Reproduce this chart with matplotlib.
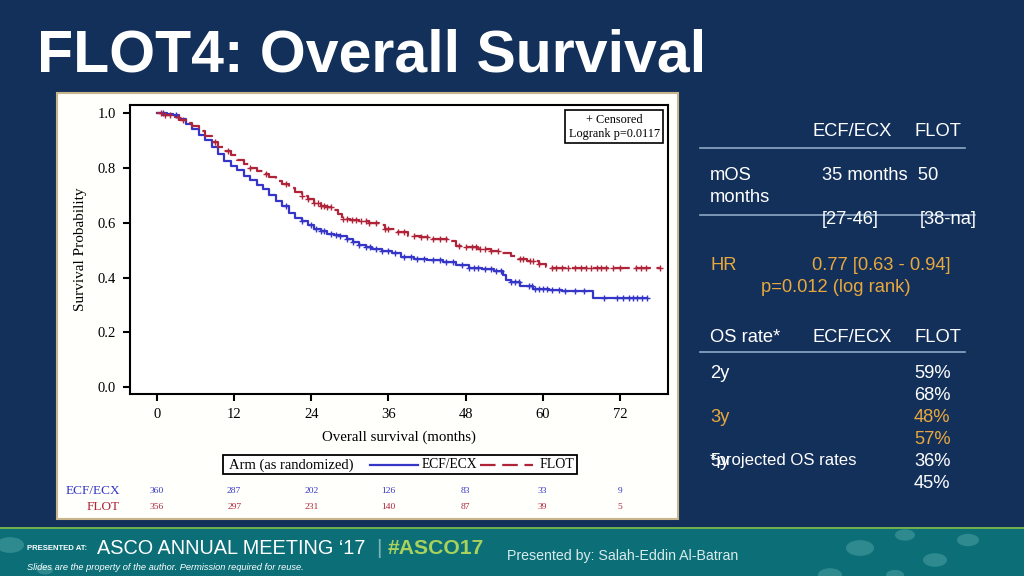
import numpy as np
import matplotlib
matplotlib.use("Agg")
import matplotlib.pyplot as plt
from matplotlib.patches import Rectangle, Circle
from matplotlib.lines import Line2D
import matplotlib.transforms as mtransforms

# Kaplan-Meier curves (months, survival probability)
ecf_time = [0, 1.5, 2.5, 3.5, 4.5, 5.5, 6.5, 7.5, 8.5, 9.5, 10.5, 11.5, 12.5, 13.5,
            14.5, 15.5, 16.5, 17.5, 18.5, 19.5, 20.5, 21.5, 22.5, 23.5, 24.5, 25.5,
            26.5, 27.5, 28.5, 29.5, 30.5, 31.5, 32.5, 33.5, 35, 36.5, 38, 40, 42,
            44.5, 46.5, 48.5, 50.5, 52.5, 53.8, 54.3, 55, 56.5, 58.5, 61, 63, 67.8, 76.2]
ecf_surv = [1.0, 0.997, 0.99, 0.978, 0.958, 0.94, 0.918, 0.9, 0.875, 0.848, 0.825,
            0.805, 0.79, 0.768, 0.755, 0.738, 0.722, 0.7, 0.68, 0.66, 0.636, 0.618,
            0.605, 0.59, 0.577, 0.568, 0.56, 0.556, 0.55, 0.54, 0.528, 0.518, 0.51,
            0.504, 0.497, 0.49, 0.474, 0.468, 0.462, 0.455, 0.445, 0.435, 0.43,
            0.422, 0.41, 0.39, 0.382, 0.37, 0.36, 0.355, 0.35, 0.325, 0.325]

flot_time = [0, 1, 2.5, 3.5, 4.5, 5.5, 6.5, 7.5, 8.5, 9.5, 10.5, 11.5, 12.5, 13.5,
             14.5, 15.5, 16.5, 17.5, 18.5, 19.5, 20.5, 21.5, 22.5, 23.5, 24.5, 25.5,
             26.5, 27.5, 28.2, 28.8, 30, 31.5, 33, 34.5, 35.5, 37, 39, 41, 43, 45.3,
             46.5, 48, 50, 52, 53.5, 55, 56.2, 57.5, 59.5, 60.5, 61.5, 78.2]
flot_surv = [1.0, 0.99, 0.985, 0.972, 0.962, 0.952, 0.935, 0.915, 0.895, 0.875, 0.86,
             0.845, 0.828, 0.812, 0.798, 0.788, 0.778, 0.765, 0.752, 0.74, 0.725,
             0.71, 0.697, 0.685, 0.67, 0.662, 0.655, 0.645, 0.63, 0.612, 0.61,
             0.607, 0.6, 0.59, 0.575, 0.565, 0.55, 0.546, 0.54, 0.532, 0.515, 0.51,
             0.504, 0.498, 0.49, 0.48, 0.468, 0.46, 0.45, 0.44, 0.433, 0.433]

# Censoring times (tick marks on the curves)
ecf_cens = [1, 3, 20, 22.5, 24, 24.8, 25.5, 26, 27, 27.8, 28.5, 29.5, 30.5, 31.5, 32.5,
            33.2, 34, 35, 36, 37, 38.5, 39.5, 40.5, 41.5, 43, 44, 45, 46, 47.5, 48.5,
            49.3, 50, 51, 52, 52.8, 53.5, 55, 55.7, 56.3, 57.8, 58.3, 58.8, 59.5, 60,
            60.6, 61.5, 62.5, 63.5, 65, 66.5, 69.5, 71.5, 72.5, 73.5, 74, 74.6, 75.5, 76.2]
flot_cens = [0.6, 1.2, 2, 3.2, 4, 9, 11, 14.5, 17, 20, 22.5, 23.5, 24.5, 25, 25.5, 26,
             26.5, 27, 29, 29.6, 30.3, 31, 31.7, 32.5, 33, 34, 35.5, 36, 37.5, 38.5, 40,
             41, 42, 43, 44, 45, 47, 48, 49, 49.6, 50.3, 51, 52, 53, 56.5, 57, 58, 58.5,
             59.5, 61.5, 62, 63, 64, 65, 66, 66.7, 67.5, 68.5, 69, 69.8, 71, 72, 74.5,
             75.3, 76, 78.2]

# Number at risk table
risk_months = [0, 12, 24, 36, 48, 60, 72]
ecf_at_risk = [360, 287, 202, 126, 83, 33, 9]
flot_at_risk = [356, 297, 231, 140, 87, 39, 5]

# Colours
NAVY = '#13305a'
TEAL = '#0c6f78'
BLUE = '#3535c8'
RED = '#b0243a'
ORANGE = '#e8a83e'
RULE = '#8ea7c6'
SERIF = 'Liberation Serif'
SANS = 'Liberation Sans'

W, H = 1024, 576
fig = plt.figure(figsize=(W / 100, H / 100), dpi=100)
fig.patch.set_facecolor(NAVY)


def fx(px):
    return px / W


def fy(py):
    return 1 - py / H


def ftext(x, y, s, **kw):
    kw.setdefault('color', 'white')
    kw.setdefault('family', SANS)
    kw.setdefault('va', 'center')
    fig.text(fx(x), fy(y), s, **kw)


# Footer band + decorations
fig.add_artist(Rectangle((0, 0), 1, fy(527), transform=fig.transFigure,
                         facecolor=TEAL, edgecolor='none', zorder=0))
fig.add_artist(Rectangle((0, fy(529)), 1, 2 / H, transform=fig.transFigure,
                         facecolor='#6fae4c', edgecolor='none', zorder=0))
for cx, cy, r in [(860, 548, 14), (905, 535, 10), (935, 560, 12), (968, 540, 11),
                  (830, 575, 12), (10, 545, 14), (45, 570, 8), (895, 575, 9)]:
    fig.add_artist(Circle((fx(cx), fy(cy)), r / W, transform=fig.transFigure,
                          facecolor='#3f969a', edgecolor='none', alpha=0.7, zorder=0))

ftext(27, 549, 'PRESENTED AT:', fontsize=5.6, fontweight='bold')
ftext(97, 549, 'ASCO ANNUAL MEETING \u201817', fontsize=14.3)
ftext(376, 549, '|', fontsize=15, color='#7fb3b3')
ftext(388, 549, '#ASCO17', fontsize=15.2, fontweight='bold', color='#a8d25c')
ftext(27, 567, 'Slides are the property of the author. Permission required for reuse.',
      fontsize=6.7, style='italic')
ftext(507, 556, 'Presented by: Salah-Eddin Al-Batran', fontsize=10.2, color='#d8ecec')

# Slide title
ftext(37, 56, 'FLOT4: Overall Survival', fontsize=42.5, fontweight='bold')

# Chart panel
fig.add_artist(Rectangle((fx(57), fy(519)), fx(678) - fx(57), fy(93) - fy(519),
                         transform=fig.transFigure, facecolor='#fffffb',
                         edgecolor='#c8b58c', linewidth=1.5, zorder=0.5))

ax = fig.add_axes([fx(130), fy(394), fx(668) - fx(130), fy(105) - fy(394)])
ax.set_zorder(1)
ax.set_facecolor('white')
ax.set_xlim(-4.2, 79.5)
ax.set_ylim(-0.024, 1.028)

ax.plot(ecf_time, ecf_surv, drawstyle='steps-post', color=BLUE, lw=1.6)
ax.plot(flot_time, flot_surv, drawstyle='steps-post', color=RED, lw=1.6,
        dashes=(7, 2.5))


def surv_at(times, surv, t):
    idx = np.searchsorted(times, t, side='right') - 1
    return np.asarray(surv)[idx]


ax.plot(ecf_cens, surv_at(ecf_time, ecf_surv, ecf_cens), '+', color=BLUE,
        markersize=5, mew=1)
ax.plot(flot_cens, surv_at(flot_time, flot_surv, flot_cens), '+', color=RED,
        markersize=5, mew=1)

ax.set_xticks(risk_months)
ax.set_yticks([0.0, 0.2, 0.4, 0.6, 0.8, 1.0])
ax.set_yticklabels(['0.0', '0.2', '0.4', '0.6', '0.8', '1.0'])
ax.tick_params(direction='out', length=5, width=1.5, labelsize=10.5, pad=5)
for lab in ax.get_xticklabels() + ax.get_yticklabels():
    lab.set_family(SERIF)
for sp in ax.spines.values():
    sp.set_linewidth(1.5)
ax.set_xlabel('Overall survival (months)', family=SERIF, fontsize=10.7, labelpad=7)
ax.set_ylabel('Survival Probability', family=SERIF, fontsize=11, labelpad=8)

ax.text(0.90, 0.925, '+ Censored\nLogrank p=0.0117', transform=ax.transAxes,
        ha='center', va='center', family=SERIF, fontsize=8.8, linespacing=1.25,
        bbox=dict(boxstyle='square,pad=0.3', facecolor='white', edgecolor='black',
                  linewidth=1.2))

# Legend strip below the axis
fig.add_artist(Rectangle((fx(223), fy(474)), fx(577) - fx(223), fy(455) - fy(474),
                         transform=fig.transFigure, facecolor='white',
                         edgecolor='black', linewidth=1.3, zorder=2))
ftext(229, 465, 'Arm (as randomized)', family=SERIF, fontsize=10.5, color='black',
      zorder=3)
fig.add_artist(Line2D([fx(370), fx(418)], [fy(465), fy(465)], color=BLUE, lw=1.6,
                      transform=fig.transFigure, zorder=3))
ftext(422, 465, 'ECF/ECX', family=SERIF, fontsize=9.8, color='black', zorder=3)
fig.add_artist(Line2D([fx(480), fx(533)], [fy(465), fy(465)], color=RED, lw=1.6,
                      dashes=(7, 3), transform=fig.transFigure, zorder=3))
ftext(540, 465, 'FLOT', family=SERIF, fontsize=10, color='black', zorder=3)

# Number at risk
trans = mtransforms.blended_transform_factory(ax.transData, fig.transFigure)
ftext(120, 491, 'ECF/ECX', family=SERIF, fontsize=9.5, color=BLUE, ha='right', zorder=3)
ftext(120, 507, 'FLOT', family=SERIF, fontsize=9.5, color=RED, ha='right', zorder=3)
for m, a, b in zip(risk_months, ecf_at_risk, flot_at_risk):
    ax.text(m, fy(491), str(a), transform=trans, ha='center', va='center',
            family=SERIF, fontsize=6.8, color=BLUE, clip_on=False)
    ax.text(m, fy(507), str(b), transform=trans, ha='center', va='center',
            family=SERIF, fontsize=6.8, color=RED, clip_on=False)

# Summary table on the right
fs = 13.2
ftext(813, 132, 'ECF/ECX', fontsize=fs)
ftext(915, 132, 'FLOT', fontsize=fs)
fig.add_artist(Line2D([fx(700), fx(965)], [fy(148), fy(148)], color=RULE, lw=1.2,
                      transform=fig.transFigure))
ftext(710, 176, 'mOS', fontsize=fs)
ftext(710, 197, 'months', fontsize=fs)
ftext(822, 176, '35 months  50', fontsize=fs)
fig.add_artist(Line2D([fx(700), fx(975)], [fy(215), fy(215)], color=RULE, lw=1.2,
                      transform=fig.transFigure))
ftext(822, 220, '[27-46]', fontsize=fs)
ftext(920, 220, '[38-na]', fontsize=fs)
ftext(710, 265, 'HR', fontsize=fs, color=ORANGE)
ftext(812, 265, '0.77 [0.63 - 0.94]', fontsize=fs, color=ORANGE)
ftext(761, 287, 'p=0.012 (log rank)', fontsize=fs, color=ORANGE)

ftext(710, 337, 'OS rate*', fontsize=fs)
ftext(813, 337, 'ECF/ECX', fontsize=fs)
ftext(915, 337, 'FLOT', fontsize=fs)
fig.add_artist(Line2D([fx(700), fx(965)], [fy(352), fy(352)], color=RULE, lw=1.2,
                      transform=fig.transFigure))
ftext(710, 374, '2y', fontsize=fs)
ftext(914, 374, '59%', fontsize=fs)
ftext(914, 396, '68%', fontsize=fs)
ftext(710, 418, '3y', fontsize=fs, color=ORANGE)
ftext(914, 418, '48%', fontsize=fs, color=ORANGE)
ftext(914, 440, '57%', fontsize=fs, color=ORANGE)
ftext(710, 462, '5y', fontsize=fs)
ftext(710, 460, '*projected OS rates', fontsize=12.1)
ftext(914, 462, '36%', fontsize=fs)
ftext(914, 484, '45%', fontsize=fs)

fig.savefig('out.png', dpi=100, facecolor=fig.get_facecolor())
